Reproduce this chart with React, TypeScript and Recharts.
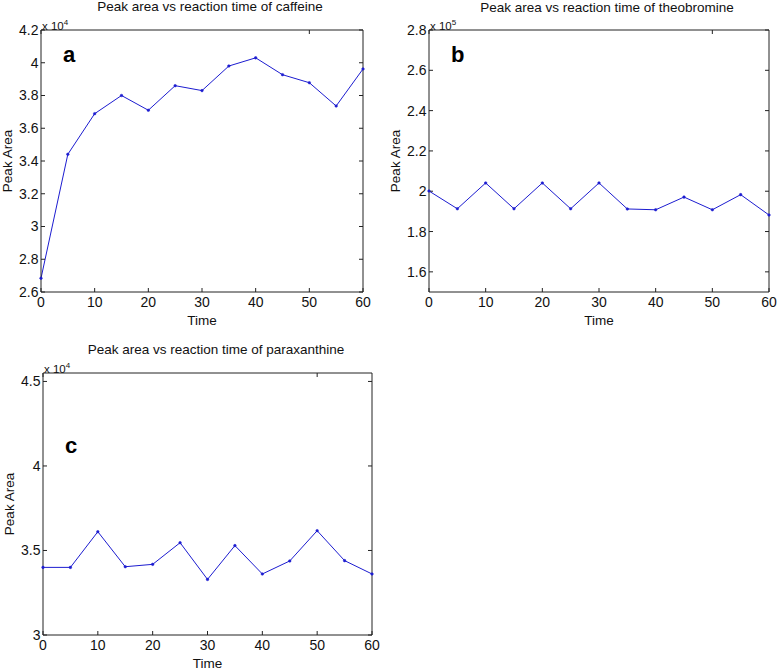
import { LineChart, Line, XAxis, YAxis } from 'recharts';

const FONT = '"Liberation Sans", Arial, Helvetica, sans-serif';
const LINE_COLOR = '#1c1cd0';
const AXIS_COLOR = '#222';

const times = [0, 5, 10, 15, 20, 25, 30, 35, 40, 45, 50, 55, 60];
const timeTicks = [0, 10, 20, 30, 40, 50, 60];

const caffeine = [26840, 34410, 36890, 38000, 37100, 38600, 38300, 39800, 40300, 39270, 38780, 37360, 39620];
const theobromine = [200100, 191300, 204100, 191300, 204100, 191300, 204100, 191200, 190800, 197100, 190800, 198300, 188200];
const paraxanthine = [34000, 34000, 36110, 34040, 34180, 35460, 33290, 35290, 33610, 34380, 36170, 34400, 33610];

const caffeineTicks = [26000, 28000, 30000, 32000, 34000, 36000, 38000, 40000, 42000];
const theobromineTicks = [160000, 180000, 200000, 220000, 240000, 260000, 280000];
const paraxanthineTicks = [30000, 35000, 40000, 45000];

interface PanelProps {
  values: number[];
  left: number;
  top: number;
  width: number;
  height: number;
  margin: { top: number; right: number; left: number; bottom: number };
  yAxisWidth: number;
  xAxisHeight: number;
  yDomain: [number, number];
  yTicks: number[];
  exponent: number;
  title: string;
  titleX: number;
  titleTop: number;
  letter: string;
  letterTop: number;
}

function Panel(p: PanelProps) {
  const rows = times.map((t, i) => ({ time: t, value: p.values[i] }));
  const scale = Math.pow(10, p.exponent);
  const fmt = (v: number) => String(+(v / scale).toFixed(2));
  const plotLeft = p.margin.left + p.yAxisWidth;
  const plotTop = p.margin.top + 1;

  return (
    <div style={{ position: 'absolute', left: p.left, top: p.top, width: p.width, height: p.height }}>
      <LineChart width={p.width} height={p.height} data={rows} margin={p.margin}>
        <XAxis
          dataKey="time"
          type="number"
          domain={[0, 60]}
          ticks={timeTicks}
          interval={0}
          tickSize={-4}
          tickMargin={9}
          height={p.xAxisHeight}
          stroke={AXIS_COLOR}
          tick={{ fill: '#111', fontSize: 14, fontFamily: FONT }}
          label={{
            content: ({ viewBox }: any) => (
              <text
                x={viewBox.x + viewBox.width / 2}
                y={viewBox.y + 28}
                textAnchor="middle"
                dominantBaseline="central"
                fontSize={13.5}
                fontFamily={FONT}
                fill="#111"
              >
                Time
              </text>
            ),
          }}
        />
        <XAxis
          xAxisId="top"
          orientation="top"
          type="number"
          domain={[0, 60]}
          ticks={timeTicks}
          interval={0}
          tickSize={-4}
          height={1}
          stroke={AXIS_COLOR}
          tickFormatter={() => ''}
          allowDataOverflow
        />
        <YAxis
          type="number"
          domain={p.yDomain}
          ticks={p.yTicks}
          interval={0}
          tickSize={-4}
          tickMargin={6.5}
          width={p.yAxisWidth}
          stroke={AXIS_COLOR}
          tick={{ fill: '#111', fontSize: 14, fontFamily: FONT }}
          tickFormatter={fmt}
          allowDataOverflow
          label={{
            content: ({ viewBox }: any) => {
              const cx = viewBox.x + viewBox.width - 34;
              const cy = viewBox.y + viewBox.height / 2;
              return (
                <text
                  x={cx}
                  y={cy}
                  transform={`rotate(-90, ${cx}, ${cy})`}
                  textAnchor="middle"
                  dominantBaseline="central"
                  fontSize={13.5}
                  fontFamily={FONT}
                  fill="#111"
                >
                  Peak Area
                </text>
              );
            },
          }}
        />
        <YAxis
          yAxisId="right"
          orientation="right"
          type="number"
          domain={p.yDomain}
          ticks={p.yTicks}
          interval={0}
          tickSize={-4}
          width={1}
          stroke={AXIS_COLOR}
          tickFormatter={() => ''}
          allowDataOverflow
        />
        <Line
          dataKey="value"
          stroke={LINE_COLOR}
          strokeWidth={1}
          dot={{ r: 1.3, fill: LINE_COLOR, stroke: LINE_COLOR, strokeWidth: 0.5 }}
          isAnimationActive={false}
        />
      </LineChart>
      <div
        style={{
          position: 'absolute',
          left: p.titleX - 160,
          width: 320,
          top: p.titleTop,
          textAlign: 'center',
          fontSize: 13.5,
          lineHeight: '13.5px',
          color: '#111',
          whiteSpace: 'nowrap',
        }}
      >
        {p.title}
      </div>
      <div
        style={{
          position: 'absolute',
          left: plotLeft + 1,
          top: plotTop - 13,
          fontSize: 11.5,
          lineHeight: '11.5px',
          color: '#111',
          whiteSpace: 'nowrap',
        }}
      >
        x 10<sup style={{ fontSize: 8 }}>{p.exponent}</sup>
      </div>
      <div
        style={{
          position: 'absolute',
          left: plotLeft + 22,
          top: p.letterTop,
          fontSize: 22,
          lineHeight: '22px',
          fontWeight: 'bold',
          color: '#000',
        }}
      >
        {p.letter}
      </div>
    </div>
  );
}

export default function App() {
  return (
    <div
      style={{
        position: 'absolute',
        left: 0,
        top: 0,
        width: 777,
        height: 671,
        background: '#fff',
        fontFamily: FONT,
      }}
    >
      <Panel
        values={caffeine}
        left={0}
        top={0}
        width={380}
        height={330}
        margin={{ top: 29, right: 16, left: 0, bottom: 0 }}
        yAxisWidth={41}
        xAxisHeight={38}
        yDomain={[26000, 42000]}
        yTicks={caffeineTicks}
        exponent={4}
        title="Peak area vs reaction time of caffeine"
        titleX={210}
        titleTop={0}
        letter="a"
        letterTop={44}
      />
      <Panel
        values={theobromine}
        left={385}
        top={0}
        width={392}
        height={330}
        margin={{ top: 29, right: 7, left: 5, bottom: 0 }}
        yAxisWidth={39}
        xAxisHeight={38}
        yDomain={[150000, 280000]}
        yTicks={theobromineTicks}
        exponent={5}
        title="Peak area vs reaction time of theobromine"
        titleX={222}
        titleTop={1}
        letter="b"
        letterTop={44}
      />
      <Panel
        values={paraxanthine}
        left={0}
        top={330}
        width={390}
        height={341}
        margin={{ top: 42, right: 17, left: 0, bottom: 0 }}
        yAxisWidth={43}
        xAxisHeight={36}
        yDomain={[30000, 45500]}
        yTicks={paraxanthineTicks}
        exponent={4}
        title="Peak area vs reaction time of paraxanthine"
        titleX={216}
        titleTop={13}
        letter="c"
        letterTop={105}
      />
    </div>
  );
}
